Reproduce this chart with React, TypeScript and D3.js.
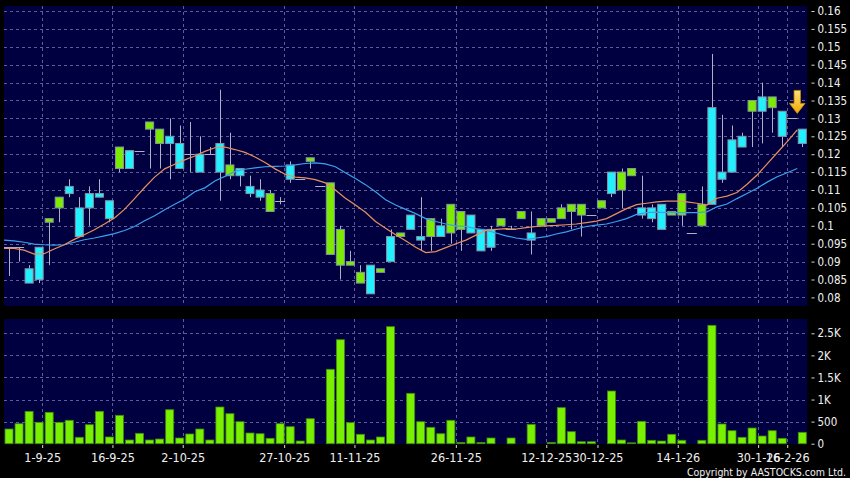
import { useEffect, useRef } from "react";
import * as d3 from "d3";

// daily OHLC, 80 sessions
const opens = [
  0.094, 0.094, 0.084, 0.085, 0.102, 0.108, 0.109, 0.097, 0.105, 0.108,
  0.102, 0.122, 0.116, 0.121, 0.129, 0.127, 0.123, 0.116, 0.12, 0.115,
  0.12, 0.115, 0.117, 0.114, 0.109, 0.108, 0.109, 0.107, 0.113, 0.113,
  0.119, 0.111, 0.112, 0.099, 0.09, 0.087, 0.081, 0.088, 0.09, 0.098,
  0.099, 0.096, 0.102, 0.097, 0.106, 0.104, 0.098, 0.093, 0.094, 0.102,
  0.099, 0.104, 0.096, 0.102, 0.102, 0.105, 0.106, 0.106, 0.103, 0.107,
  0.109, 0.115, 0.116, 0.103, 0.102, 0.099, 0.104, 0.109, 0.098, 0.106,
  0.106, 0.113, 0.115, 0.122, 0.135, 0.132, 0.136, 0.125, 0.13, 0.123,
];
const highs = [
  0.094, 0.094, 0.089, 0.094, 0.102, 0.108, 0.113, 0.108, 0.111, 0.113,
  0.107, 0.122, 0.121, 0.121, 0.129, 0.127, 0.13, 0.128, 0.129, 0.125,
  0.122, 0.138, 0.126, 0.116, 0.114, 0.113, 0.11, 0.108, 0.118, 0.113,
  0.119, 0.111, 0.112, 0.1, 0.093, 0.089, 0.089, 0.088, 0.099, 0.098,
  0.103, 0.108, 0.102, 0.102, 0.106, 0.104, 0.103, 0.099, 0.1, 0.102,
  0.1, 0.104, 0.104, 0.102, 0.102, 0.106, 0.106, 0.106, 0.103, 0.107,
  0.115, 0.116, 0.116, 0.114, 0.106, 0.106, 0.104, 0.109, 0.098, 0.111,
  0.148, 0.131, 0.128, 0.126, 0.135, 0.14, 0.136, 0.132, 0.13, 0.127,
];
const lows = [
  0.086, 0.09, 0.084, 0.084, 0.089, 0.101, 0.108, 0.097, 0.1, 0.108,
  0.101, 0.115, 0.116, 0.121, 0.116, 0.116, 0.113, 0.116, 0.115, 0.115,
  0.12, 0.107, 0.113, 0.111, 0.108, 0.107, 0.104, 0.106, 0.112, 0.113,
  0.116, 0.111, 0.092, 0.085, 0.089, 0.084, 0.081, 0.087, 0.09, 0.097,
  0.099, 0.093, 0.093, 0.097, 0.095, 0.093, 0.098, 0.093, 0.093, 0.1,
  0.099, 0.102, 0.092, 0.1, 0.101, 0.102, 0.099, 0.097, 0.103, 0.105,
  0.108, 0.105, 0.114, 0.102, 0.101, 0.099, 0.103, 0.1, 0.098, 0.1,
  0.106, 0.112, 0.115, 0.122, 0.122, 0.123, 0.126, 0.122, 0.13, 0.122,
];
const closes = [
  0.094, 0.094, 0.088, 0.094, 0.101, 0.105, 0.111, 0.105, 0.109, 0.109,
  0.107, 0.116, 0.121, 0.121, 0.127, 0.123, 0.125, 0.123, 0.12, 0.12,
  0.12, 0.123, 0.114, 0.116, 0.111, 0.11, 0.104, 0.107, 0.117, 0.113,
  0.118, 0.111, 0.092, 0.089, 0.089, 0.084, 0.089, 0.087, 0.097, 0.097,
  0.103, 0.097, 0.097, 0.1, 0.098, 0.099, 0.103, 0.099, 0.099, 0.1,
  0.099, 0.102, 0.098, 0.1, 0.101, 0.102, 0.104, 0.103, 0.103, 0.105,
  0.115, 0.11, 0.114, 0.105, 0.105, 0.106, 0.103, 0.103, 0.098, 0.1,
  0.133, 0.115, 0.124, 0.125, 0.132, 0.136, 0.133, 0.132, 0.13, 0.127,
];
// volume, thousands of shares
const volumes = [
  333, 453, 733, 484, 711, 484, 530, 145, 430, 733,
  152, 643, 84, 235, 84, 106, 770, 129, 220, 333,
  84, 831, 680, 498, 242, 226, 122, 453, 385, 61,
  566, 0, 1685, 2355, 476, 213, 84, 152, 2650, 0,
  1141, 498, 371, 226, 530, 30, 152, 30, 129, 0,
  129, 0, 439, 0, 30, 816, 272, 45, 45, 0,
  1193, 84, 20, 507, 77, 61, 213, 77, 0, 77,
  2681, 446, 294, 145, 355, 174, 294, 122, 0, 258,
];
// moving averages as plotted
const maShort = [
  0.0937, 0.0937, 0.0932, 0.0921, 0.0922, 0.0935, 0.0947, 0.0962, 0.0975, 0.0989,
  0.1005, 0.1022, 0.1046, 0.1076, 0.1107, 0.1136, 0.1159, 0.1172, 0.1184, 0.1195,
  0.1208, 0.1218, 0.122, 0.1213, 0.1205, 0.1192, 0.1177, 0.1159, 0.1144, 0.1136,
  0.1134, 0.1129, 0.112, 0.11, 0.1077, 0.1058, 0.1038, 0.1012, 0.0993, 0.0975,
  0.0958, 0.094, 0.0925, 0.0928, 0.0939, 0.095, 0.096, 0.0974, 0.0987, 0.099,
  0.0992, 0.0991, 0.0995, 0.0998, 0.1, 0.1001, 0.1003, 0.1005, 0.1009, 0.1013,
  0.102, 0.1034, 0.1048, 0.1059, 0.1063, 0.1067, 0.1069, 0.1069, 0.1067, 0.1063,
  0.1058, 0.1077, 0.1083, 0.1093, 0.1116, 0.1142, 0.1173, 0.1204, 0.1235, 0.1268,
];
const maLong = [
  0.096, 0.0958, 0.0954, 0.0949, 0.0947, 0.0946, 0.0947, 0.0954, 0.0961, 0.0966,
  0.0972, 0.0978, 0.0987, 0.0998, 0.1014, 0.1028, 0.1045, 0.106, 0.1075, 0.1095,
  0.1106, 0.1125, 0.1138, 0.1152, 0.1158, 0.1162, 0.1165, 0.1166, 0.1167, 0.117,
  0.1174, 0.1176, 0.1173, 0.1165, 0.1148, 0.1132, 0.1115, 0.1095, 0.1073, 0.1058,
  0.1046, 0.1034, 0.102, 0.1012, 0.1005, 0.1, 0.0998, 0.0992, 0.0988, 0.098,
  0.0972, 0.0966, 0.0962, 0.0966, 0.097, 0.0977, 0.0983, 0.0991, 0.0998, 0.1002,
  0.1005, 0.1012, 0.102, 0.1032, 0.1037, 0.1038, 0.1037, 0.1037, 0.1037, 0.1037,
  0.1039, 0.1053, 0.1061, 0.1076, 0.109, 0.1105, 0.1122, 0.1137, 0.1148, 0.116,
];

const dateLabels = [
  "1-9-25", "16-9-25", "2-10-25", "27-10-25", "11-11-25", "26-11-25",
  "12-12-25", "30-12-25", "14-1-26", "30-1-26", "16-2-26",
];
// label positions in session units
const datePos = [3.3, 10.3, 17.3, 27.4, 34.4, 44.5, 53.5, 58.6, 66.6, 74.6, 77.5];

const priceTicks = d3.range(0, 17).map((k) => +(0.08 + k * 0.005).toFixed(3));
const volumeTicks = [0, 500, 1000, 1500, 2000, 2500];
const volumeTickLabels = ["0", "500", "1K", "1.5K", "2K", "2.5K"];

const FONT = '"DejaVu Sans Condensed", "DejaVu Sans", sans-serif';
const NAVY = "#000040";
const GRID = "#5c5c9c";
const GREEN = "#7bec00";
const CYAN = "#20f0ff";
const WICK = "#b0b0c4";

const App = () => {
  const svgRef = useRef<SVGSVGElement>(null);

  useEffect(() => {
    if (!svgRef.current) return;
    const svg = d3.select(svgRef.current);
    svg.selectAll("*").remove();

    const width = 850;
    const height = 478;
    const left = 4;
    const right = 807.3;
    const pricePanel = { top: 6, bottom: 306 };
    const volPanel = { top: 319, bottom: 444 };

    const n = closes.length;
    const x = d3.scaleLinear().domain([-0.5, n - 0.5]).range([left, right]);
    const y = d3.scaleLinear().domain([0.08, 0.16]).range([297.4, 11]);
    const yv = d3.scaleLinear().domain([0, 2500]).range([443.7, 333.3]);
    const step = x(1) - x(0);
    const bodyW = step * 0.8;

    svg.append("rect").attr("width", width).attr("height", height).attr("fill", "#000");

    [pricePanel, volPanel].forEach((p) => {
      svg.append("rect")
        .attr("x", left)
        .attr("y", p.top)
        .attr("width", right - left)
        .attr("height", p.bottom - p.top)
        .attr("fill", NAVY);
    });

    // dashed grid
    const grid = svg.append("g")
      .attr("stroke", GRID)
      .attr("stroke-dasharray", "3,3")
      .attr("shape-rendering", "crispEdges");

    grid.selectAll(".hp")
      .data(priceTicks)
      .join("line")
      .attr("x1", left)
      .attr("x2", right)
      .attr("y1", (d) => Math.round(y(d)) + 0.5)
      .attr("y2", (d) => Math.round(y(d)) + 0.5);

    grid.selectAll(".hv")
      .data(volumeTicks.slice(1))
      .join("line")
      .attr("x1", left)
      .attr("x2", right)
      .attr("y1", (d) => Math.round(yv(d)) + 0.5)
      .attr("y2", (d) => Math.round(yv(d)) + 0.5);

    [pricePanel, volPanel].forEach((p) => {
      grid.append("g")
        .selectAll("line")
        .data(datePos)
        .join("line")
        .attr("x1", (d) => Math.round(x(d)) + 0.5)
        .attr("x2", (d) => Math.round(x(d)) + 0.5)
        .attr("y1", p.top)
        .attr("y2", p.bottom);
    });

    // candles
    const candles = d3.range(n).map((i) => ({
      i, o: opens[i], h: highs[i], l: lows[i], c: closes[i],
    }));

    const cg = svg.append("g");

    cg.selectAll(".wick")
      .data(candles.filter((d) => d.h > d.l))
      .join("line")
      .attr("x1", (d) => Math.round(x(d.i)) + 0.5)
      .attr("x2", (d) => Math.round(x(d.i)) + 0.5)
      .attr("y1", (d) => y(d.h))
      .attr("y2", (d) => y(d.l))
      .attr("stroke", WICK)
      .attr("stroke-width", 1);

    cg.selectAll(".doji")
      .data(candles.filter((d) => d.o === d.c))
      .join("line")
      .attr("x1", (d) => x(d.i) - step / 2)
      .attr("x2", (d) => x(d.i) + step / 2)
      .attr("y1", (d) => Math.round(y(d.c)) + 0.5)
      .attr("y2", (d) => Math.round(y(d.c)) + 0.5)
      .attr("stroke", WICK)
      .attr("stroke-width", 1);

    cg.selectAll(".body")
      .data(candles.filter((d) => d.o !== d.c))
      .join("rect")
      .attr("x", (d) => x(d.i) - bodyW / 2)
      .attr("y", (d) => y(Math.max(d.o, d.c)))
      .attr("width", bodyW)
      .attr("height", (d) => Math.max(2, y(Math.min(d.o, d.c)) - y(Math.max(d.o, d.c))))
      .attr("fill", (d) => (d.c > d.o ? CYAN : GREEN))
      .attr("stroke", "#8494a4")
      .attr("stroke-width", 1);

    // moving averages, plotted at the left edge of each slot
    const maLine = d3.line<number>()
      .x((_, i) => x(i - 0.5))
      .y((d) => y(d));

    svg.append("path")
      .attr("d", maLine(maLong))
      .attr("fill", "none")
      .attr("stroke", "#3aa2ec")
      .attr("stroke-width", 1.2);

    svg.append("path")
      .attr("d", maLine(maShort))
      .attr("fill", "none")
      .attr("stroke", "#e8905e")
      .attr("stroke-width", 1.2);

    // marker arrow over the last sessions
    const defs = svg.append("defs");
    const grad = defs.append("linearGradient")
      .attr("id", "arrowGrad")
      .attr("x1", 0).attr("x2", 0).attr("y1", 0).attr("y2", 1);
    grad.append("stop").attr("offset", "0%").attr("stop-color", "#ffe27a");
    grad.append("stop").attr("offset", "100%").attr("stop-color", "#f2a800");

    const ax = x(n - 1.5);
    const tipY = y(highs[n - 2]) - 5;
    svg.append("path")
      .attr("d", `M ${ax - 3.2},${tipY - 23} L ${ax + 3.2},${tipY - 23} L ${ax + 3.2},${tipY - 10}
                  L ${ax + 7.8},${tipY - 10} L ${ax},${tipY} L ${ax - 7.8},${tipY - 10}
                  L ${ax - 3.2},${tipY - 10} Z`)
      .attr("fill", "url(#arrowGrad)")
      .attr("stroke", "#c88a00")
      .attr("stroke-width", 0.8);

    // volume bars
    svg.append("g")
      .selectAll("rect")
      .data(volumes)
      .join("rect")
      .attr("x", (_, i) => x(i) - bodyW / 2)
      .attr("y", (d) => yv(d))
      .attr("width", bodyW)
      .attr("height", (d) => yv(0) - yv(d))
      .attr("fill", "#78f000")
      .attr("stroke", (d) => (d === 0 ? "#334433" : "#3c8a10"))
      .attr("stroke-width", 0.8);

    // axes
    const styleAxis = (g: d3.Selection<SVGGElement, unknown, null, undefined>, size: number) => {
      g.select(".domain").remove();
      g.selectAll(".tick line").attr("stroke", "#d8d8d8");
      g.selectAll(".tick text")
        .attr("fill", "#f0f0f0")
        .style("font-family", FONT)
        .style("font-stretch", "condensed")
        .style("font-size", `${size}px`);
    };

    svg.append("g")
      .attr("transform", "translate(811.5,0)")
      .call(d3.axisRight(y).tickValues(priceTicks).tickSize(3).tickPadding(3)
        .tickFormat((d) => String(+d)))
      .call((g) => styleAxis(g, 11.5));

    svg.append("g")
      .attr("transform", "translate(811.5,0)")
      .call(d3.axisRight(yv).tickValues(volumeTicks).tickSize(3).tickPadding(3)
        .tickFormat((_, i) => volumeTickLabels[i]))
      .call((g) => styleAxis(g, 11.5));

    svg.append("g")
      .attr("transform", `translate(0,${volPanel.bottom + 1})`)
      .call(d3.axisBottom(x).tickValues(datePos).tickSize(3).tickPadding(5)
        .tickFormat((_, i) => dateLabels[i]))
      .call((g) => styleAxis(g, 12.5));

    svg.append("text")
      .attr("x", 846)
      .attr("y", 476)
      .attr("text-anchor", "end")
      .style("font-family", FONT)
      .style("font-stretch", "condensed")
      .style("font-size", "10.5px")
      .style("fill", "#f0f0f0")
      .text("Copyright by AASTOCKS.com Ltd.");
  }, []);

  return (
    <div style={{ position: "absolute", left: 0, top: 0, width: 850, height: 478, background: "#000" }}>
      <svg ref={svgRef} width={850} height={478} style={{ display: "block" }} />
    </div>
  );
};

export default App;
